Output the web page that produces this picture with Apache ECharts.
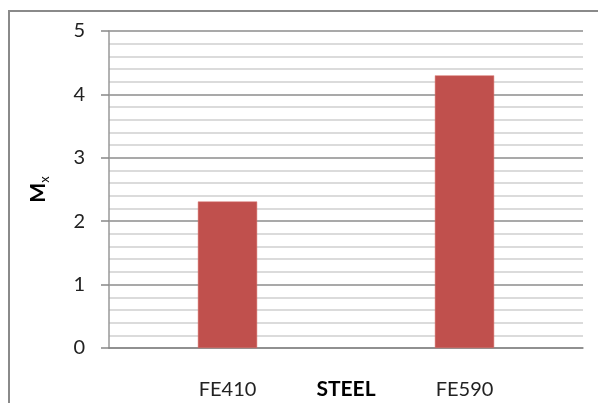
<!DOCTYPE html>
<html>
<head>
<meta charset="utf-8">
<script src="https://cdn.jsdelivr.net/npm/echarts@6/dist/echarts.min.js"></script>
<style>
  html, body { margin: 0; padding: 0; background: #fff; }
  #chart { width: 598px; height: 403px; }
</style>
</head>
<body>
<div id="chart"></div>
<script>
// Steel grades and their Mx values
const categories = ['FE410', 'FE590'];
const mxValues = [2.31, 4.30];
const yTicks = [0, 1, 2, 3, 4, 5];
const xTitle = 'STEEL';

const FONT = 'Lato, "Open Sans", sans-serif';

const chart = echarts.init(document.getElementById('chart'));
chart.setOption({
  animation: false,
  backgroundColor: '#fff',
  grid: { left: 109, right: 15, top: 31, bottom: 55, containLabel: false, outerBoundsMode: 'none' },
  graphic: [
    // chart frame (left and top edges)
    { type: 'line', shape: { x1: 9, y1: 11, x2: 9, y2: 403 }, style: { stroke: '#8a8a8a', lineWidth: 2 } },
    { type: 'line', shape: { x1: 8, y1: 11, x2: 598, y2: 11 }, style: { stroke: '#8a8a8a', lineWidth: 2 } },
    // x-axis title, sitting on the same line as the category labels
    {
      type: 'text', x: 346, y: 389,
      style: {
        text: xTitle, fontFamily: FONT, fontWeight: 'bold', fontSize: 21, fill: '#000',
        align: 'center', verticalAlign: 'middle'
      }
    }
  ],
  xAxis: {
    type: 'category',
    data: categories,
    axisLine: { show: true, lineStyle: { color: '#888', width: 1.5 } },
    axisTick: { show: false },
    axisLabel: { fontFamily: FONT, fontSize: 20, color: '#222', margin: 32 }
  },
  yAxis: {
    type: 'value',
    min: yTicks[0],
    max: yTicks[yTicks.length - 1],
    interval: 1,
    name: '{m|M}{s|x}',
    nameLocation: 'middle',
    nameGap: 58,
    nameRotate: 90,
    nameTextStyle: {
      rich: {
        m: { fontFamily: FONT, fontWeight: 'bold', fontSize: 21, color: '#000' },
        s: { fontFamily: FONT, fontSize: 13, color: '#000', padding: [12, 0, 0, 0] }
      }
    },
    axisLine: { show: true, lineStyle: { color: '#999', width: 1.5 } },
    axisTick: { show: true, length: 8, lineStyle: { color: '#888', width: 1.5 } },
    axisLabel: { fontFamily: FONT, fontSize: 20, color: '#222', margin: 24 },
    splitLine: { show: true, lineStyle: { color: '#8c8c8c', width: 1.5 } },
    minorTick: { show: false, splitNumber: 5 },
    minorSplitLine: { show: true, lineStyle: { color: '#cfcfcf', width: 1.5 } }
  },
  series: [{
    type: 'bar',
    data: mxValues,
    barWidth: '25%',
    itemStyle: { color: '#C0504D', borderColor: '#d8706d', borderWidth: 0.5 }
  }]
});
</script>
</body>
</html>
